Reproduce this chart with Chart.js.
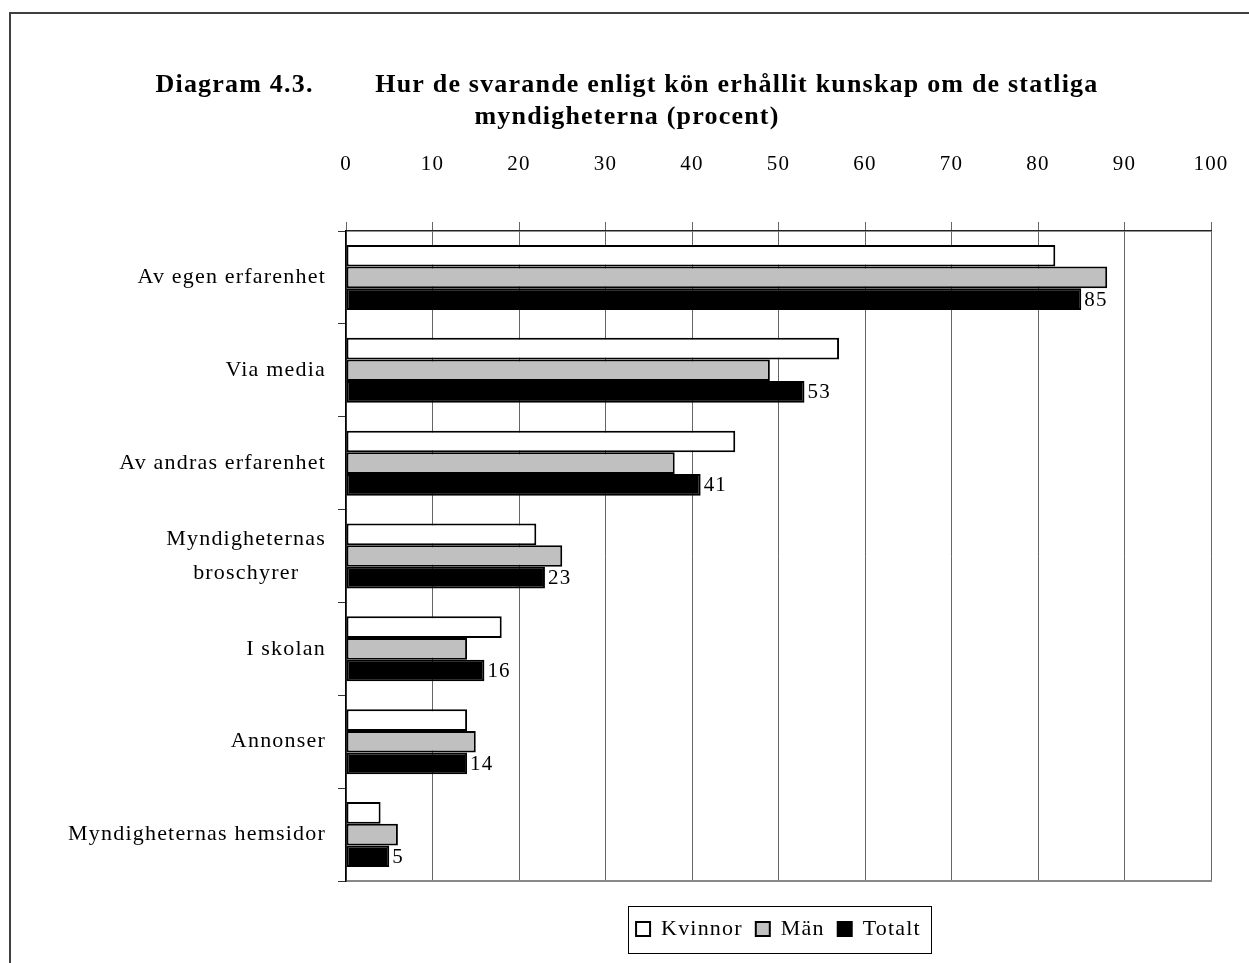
<!DOCTYPE html>
<html>
<head>
<meta charset="utf-8">
<script src="https://cdn.jsdelivr.net/npm/chart.js@4.4.0/dist/chart.umd.min.js"></script>
<style>
  html, body { margin: 0; padding: 0; background: #fff; }
</style>
</head>
<body>
<canvas id="myChart" width="1249" height="963"></canvas>
<script>
'use strict';

var categories = [
  'Av egen erfarenhet',
  'Via media',
  'Av andras erfarenhet',
  ['Myndigheternas', 'broschyrer'],
  'I skolan',
  'Annonser',
  'Myndigheternas hemsidor'
];
var seriesNames = ['Kvinnor', 'Män', 'Totalt'];
var kvinnor = [82, 57, 45, 22, 18, 14, 4];
var man = [88, 49, 38, 25, 14, 15, 6];
var totalt = [85, 53, 41, 23, 16, 14, 5];
var xMin = 0;
var xMax = 100;
var xStep = 10;

var serif = '"Liberation Serif", "Times New Roman", serif';
var NBSP = '\u00a0';
var spacing = '1.2px';

// pad the shorter line of a two-line label so the lines look centred
var measureCtx = document.createElement('canvas').getContext('2d');
measureCtx.font = '22px ' + serif;
measureCtx.letterSpacing = spacing;
function centreLines(label) {
  if (!Array.isArray(label)) return label;
  var widths = label.map(function(l) { return measureCtx.measureText(l).width; });
  var maxW = Math.max.apply(null, widths);
  var sp = measureCtx.measureText(NBSP).width;
  return label.map(function(l, i) {
    var n = Math.round((maxW - widths[i]) / 2 / sp);
    return l + new Array(n + 1).join(NBSP);
  });
}

// looser letter spacing, like the original print
var spacingPlugin = {
  id: 'spacing',
  beforeLayout: function(chart) {
    chart.ctx.letterSpacing = spacing;
  }
};

var framePlugin = {
  id: 'frame',
  beforeDraw: function(chart) {
    var ctx = chart.ctx;
    ctx.save();
    ctx.fillStyle = '#fff';
    ctx.fillRect(0, 0, chart.width, chart.height);
    ctx.strokeStyle = '#404040';
    ctx.lineWidth = 2;
    ctx.beginPath();
    ctx.moveTo(10, chart.height);
    ctx.lineTo(10, 13);
    ctx.lineTo(chart.width, 13);
    ctx.stroke();
    ctx.restore();
  }
};

var totalLabels = {
  id: 'totalLabels',
  afterDatasetsDraw: function(chart) {
    var ctx = chart.ctx;
    var meta = chart.getDatasetMeta(2);
    ctx.save();
    ctx.font = '21px ' + serif;
    ctx.fillStyle = '#000';
    ctx.textAlign = 'left';
    ctx.textBaseline = 'middle';
    for (var i = 0; i < meta.data.length; i++) {
      var bar = meta.data[i];
      ctx.fillText(String(totalt[i]), bar.x + 3, bar.y + 1);
    }
    ctx.restore();
  }
};

var legendBox = {
  id: 'legendBox',
  afterDraw: function(chart) {
    var boxes = chart.legend.legendHitBoxes;
    if (!boxes || !boxes.length) return;
    var left = Infinity, right = -Infinity, top = Infinity, bottom = -Infinity;
    for (var i = 0; i < boxes.length; i++) {
      left = Math.min(left, boxes[i].left);
      right = Math.max(right, boxes[i].left + boxes[i].width);
      top = Math.min(top, boxes[i].top);
      bottom = Math.max(bottom, boxes[i].top + boxes[i].height);
    }
    var ctx = chart.ctx;
    ctx.save();
    ctx.strokeStyle = '#000';
    ctx.lineWidth = 1;
    ctx.strokeRect(Math.round(left - 8) + 0.5, Math.round(top - 12) + 0.5,
      Math.round(right - left + 18), Math.round(bottom - top + 25));
    ctx.restore();
  }
};

var ctx = document.getElementById('myChart').getContext('2d');
var chart = new Chart(ctx, {
  type: 'bar',
  data: {
    labels: categories,
    datasets: [{
      label: seriesNames[0],
      data: kvinnor,
      backgroundColor: '#ffffff',
      borderColor: '#000000',
      borderWidth: 2,
      borderSkipped: false
    }, {
      label: seriesNames[1],
      data: man,
      backgroundColor: '#c0c0c0',
      borderColor: '#000000',
      borderWidth: 2,
      borderSkipped: false
    }, {
      label: seriesNames[2],
      data: totalt,
      backgroundColor: '#000000',
      borderColor: '#000000',
      borderWidth: 2,
      borderSkipped: false
    }]
  },
  options: {
    indexAxis: 'y',
    responsive: false,
    animation: false,
    devicePixelRatio: 1,
    categoryPercentage: 0.7,
    barPercentage: 1.0,
    layout: {
      padding: { left: 20, right: 15, top: 0, bottom: 13 }
    },
    scales: {
      x: {
        position: 'top',
        min: xMin,
        max: xMax,
        ticks: {
          stepSize: xStep,
          color: '#000',
          padding: 45,
          font: { family: serif, size: 21 }
        },
        grid: {
          color: '#666',
          lineWidth: 1,
          tickLength: 9,
          drawTicks: true
        },
        border: { display: true, color: '#222', width: 1.5 },
        afterFit: function(scale) {
          scale.height = 97;
          // tick padding is meant for the gap above the axis, not the sides
          scale.paddingLeft = 0;
          scale.paddingRight = 38;
        }
      },
      x2: {
        type: 'linear',
        position: 'bottom',
        min: xMin,
        max: xMax,
        grid: { display: false },
        ticks: { display: false },
        border: { display: true, color: '#888', width: 2 },
        afterFit: function(scale) { scale.height = 24; }
      },
      y: {
        position: 'left',
        ticks: {
          color: '#000',
          padding: 12,
          font: { family: serif, size: 22, lineHeight: 1.55 },
          callback: function(value) {
            return centreLines(this.getLabelForValue(value));
          }
        },
        grid: {
          drawOnChartArea: false,
          drawTicks: true,
          tickLength: 8,
          color: '#333',
          offset: true
        },
        border: { display: true, color: '#000', width: 1.5 },
        afterFit: function(scale) { scale.width = 326; }
      }
    },
    plugins: {
      title: {
        display: true,
        text: [
          'Diagram 4.3.' + new Array(9).join(NBSP) + 'Hur de svarande enligt kön erhållit kunskap om de statliga',
          'myndigheterna (procent)'
        ],
        color: '#000',
        font: { family: serif, size: 26, weight: 'bold', lineHeight: 1.25 },
        padding: { top: 69, bottom: 0 }
      },
      legend: {
        position: 'bottom',
        fullSize: false,
        labels: {
          color: '#000',
          boxWidth: 14,
          boxHeight: 14,
          padding: 13,
          font: { family: serif, size: 22 }
        }
      },
      tooltip: { enabled: false }
    }
  },
  plugins: [spacingPlugin, framePlugin, totalLabels, legendBox]
});
</script>
</body>
</html>
